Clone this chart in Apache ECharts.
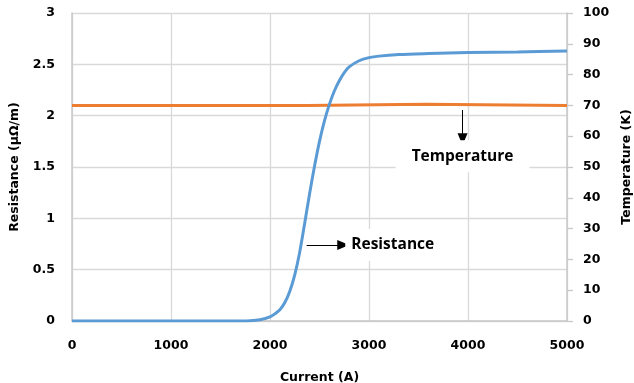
<!DOCTYPE html>
<html>
<head>
<meta charset="utf-8">
<script src="https://cdn.jsdelivr.net/npm/echarts@6/dist/echarts.min.js"></script>
<style>
  html, body { margin: 0; padding: 0; background: #fff; }
  #chart { width: 634px; height: 383px; }
</style>
</head>
<body>
<div id="chart"></div>
<script>
// current (A) vs resistance (µΩ/m)
const current = [0, 1000, 1600, 1800, 1900, 2000, 2050, 2100, 2150, 2200, 2250, 2300, 2350, 2400, 2450, 2500, 2550, 2600, 2650, 2700, 2750, 2800, 2900, 3000, 3100, 3300, 3600, 4000, 4500, 5000];
const resistance = [0, 0, 0, 0.003, 0.012, 0.04, 0.07, 0.11, 0.18, 0.29, 0.45, 0.67, 0.95, 1.24, 1.51, 1.75, 1.95, 2.11, 2.24, 2.34, 2.42, 2.475, 2.535, 2.565, 2.58, 2.595, 2.605, 2.615, 2.62, 2.63];

// current (A) vs temperature (K)
const tempCurrent = [0, 2370, 2380, 3570, 3580, 5000];
const temperature = [70, 70, 70.4, 70.4, 70, 70];

const xTicks = [0, 1000, 2000, 3000, 4000, 5000];

const tickFont = { fontFamily: "DejaVu Sans", fontWeight: "bold", fontSize: 12.5, color: "#000" };
const nameFont = { fontFamily: "DejaVu Sans", fontWeight: "bold", fontSize: 12.5, color: "#000" };
const noteFont = { fontFamily: "Open Sans", fontWeight: "bold", fontSize: 15.5, color: "#000" };

const chart = echarts.init(document.getElementById("chart"));

chart.setOption({
    animation: false,
    grid: { left: 72, right: 67, top: 13, bottom: 62, containLabel: false, outerBoundsMode: "none" },
    xAxis: {
        type: "value",
        min: xTicks[0],
        max: xTicks[xTicks.length - 1],
        interval: 1000,
        name: "Current (A)",
        nameLocation: "middle",
        nameGap: 50,
        nameTextStyle: nameFont,
        axisLine: { lineStyle: { color: "#c8c8c8", width: 1.5 } },
        axisTick: { show: false },
        axisLabel: { ...tickFont, margin: 18, formatter: v => String(v) },
        splitLine: { lineStyle: { color: "#d9d9d9", width: 1.3 } }
    },
    yAxis: [
        {
            type: "value",
            min: 0,
            max: 3,
            interval: 0.5,
            name: "Resistance (µΩ/m)",
            nameLocation: "middle",
            nameGap: 51,
            nameTextStyle: nameFont,
            axisLine: { show: true, lineStyle: { color: "#c8c8c8", width: 1.5 } },
            axisTick: { show: false },
            axisLabel: { ...tickFont, margin: 17 },
            splitLine: { lineStyle: { color: "#d9d9d9", width: 1.3 } }
        },
        {
            type: "value",
            min: 0,
            max: 100,
            interval: 10,
            name: "Temperature (K)",
            nameLocation: "middle",
            nameGap: 53,
            nameRotate: 90,
            nameTextStyle: nameFont,
            axisLine: { show: true, lineStyle: { color: "#c8c8c8", width: 1.5 } },
            axisTick: { show: true, length: 6, lineStyle: { color: "#c8c8c8", width: 1.3 } },
            axisLabel: { ...tickFont, margin: 16 },
            splitLine: { show: false }
        }
    ],
    series: [
        {
            name: "Resistance",
            type: "line",
            smooth: 0.3,
            symbol: "none",
            data: current.map((c, i) => [c, resistance[i]]),
            lineStyle: { color: "#5b9bd5", width: 3 },
            z: 3,
            markLine: {
                silent: true,
                symbol: ["none", "triangle"],
                symbolSize: [10, 12],
                lineStyle: { color: "#000", width: 1, type: "solid" },
                label: {
                    show: true,
                    position: "end",
                    distance: 2,
                    formatter: "Resistance",
                    backgroundColor: "#fff",
                    padding: [9, 6, 7, 6],
                    ...noteFont
                },
                data: [[{ coord: [2370, 0.74] }, { coord: [2740, 0.74] }]]
            }
        },
        {
            name: "Temperature",
            type: "line",
            yAxisIndex: 1,
            symbol: "none",
            data: tempCurrent.map((c, i) => [c, temperature[i]]),
            lineStyle: { color: "#ed7d31", width: 3 },
            z: 2,
            markLine: {
                silent: true,
                symbol: ["none", "triangle"],
                symbolSize: [10, 12],
                lineStyle: { color: "#000", width: 1, type: "solid" },
                label: {
                    show: true,
                    position: "end",
                    distance: 1,
                    formatter: "Temperature",
                    backgroundColor: "#fff",
                    padding: [8, 16, 8, 16],
                    ...noteFont
                },
                data: [[{ coord: [3945, 68.5] }, { coord: [3945, 59] }]]
            }
        }
    ]
});
</script>
</body>
</html>
